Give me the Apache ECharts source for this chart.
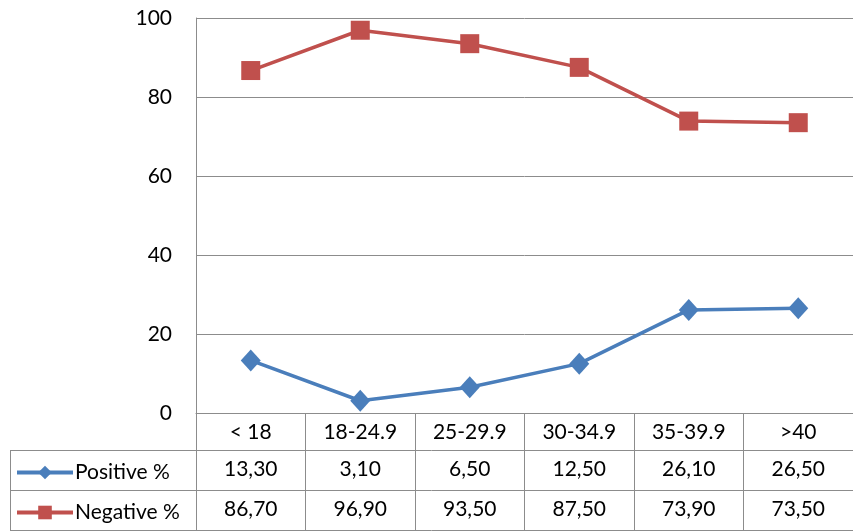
<!DOCTYPE html>
<html>
<head>
<meta charset="UTF-8">
<title></title>
<script src="https://cdn.jsdelivr.net/npm/echarts@6/dist/echarts.min.js"></script>
<style>
  html, body { margin: 0; padding: 0; background: #fff; }
  #main { width: 853px; height: 531px; }
</style>
</head>
<body>
<div id="main"></div>
<script type="text/javascript">
var categories = ['< 18', '18-24.9', '25-29.9', '30-34.9', '35-39.9', '>40'];
var positive = [13.3, 3.1, 6.5, 12.5, 26.1, 26.5];
var negative = [86.7, 96.9, 93.5, 87.5, 73.9, 73.5];
var yTicks = [0, 20, 40, 60, 80, 100];

var FONT = 'Lato';
var GRAY = '#8c8c8c';
var TEXT = '#000';

// Excel style: comma as decimal separator
function fmt(v) {
  return v.toFixed(2).replace('.', ',');
}

var myChart = echarts.init(document.getElementById('main'));

function tableAxis(offset, values) {
  return {
    type: 'category',
    data: categories,
    position: 'bottom',
    offset: offset,
    axisLine: { show: false },
    axisTick: { show: false },
    axisLabel: {
      interval: 0,
      margin: 9,
      color: TEXT,
      fontFamily: FONT,
      fontSize: 21,
      formatter: function (val, idx) { return fmt(values[idx]); }
    }
  };
}

// one legend per table row
function rowLegend(name, top) {
  return {
    left: 10,
    top: top,
    itemWidth: 56,
    itemHeight: 17,
    itemGap: 0,
    lineStyle: { width: 4 },
    textStyle: { color: TEXT, fontFamily: FONT, fontSize: 21, padding: [0, 0, 0, -3] },
    data: [name]
  };
}

var option = {
  animation: false,
  color: ['#4a7ebb', '#c0504d'],
  grid: { left: 196, right: 0, top: 18, bottom: 118 },
  legend: [
    rowLegend('Positive %', 457),
    rowLegend('Negative %', 497)
  ],
  xAxis: [
    {
      type: 'category',
      data: categories,
      boundaryGap: true,
      axisLine: { show: true, lineStyle: { color: GRAY, width: 1 } },
      axisTick: { show: true, inside: false, length: 118, lineStyle: { color: GRAY, width: 1 } },
      axisLabel: { interval: 0, margin: 9, color: TEXT, fontFamily: FONT, fontSize: 21 },
      splitLine: { show: false }
    },
    tableAxis(37, positive),
    tableAxis(77, negative)
  ],
  yAxis: {
    type: 'value',
    min: yTicks[0],
    max: yTicks[yTicks.length - 1],
    interval: 20,
    axisLine: { show: true, lineStyle: { color: GRAY } },
    axisTick: { show: false },
    axisLabel: { margin: 24, color: TEXT, fontFamily: FONT, fontSize: 21 },
    splitLine: { lineStyle: { color: GRAY, width: 1 } }
  },
  graphic: [
    // row borders of the data table
    { type: 'line', shape: { x1: 10, y1: 450.5, x2: 853, y2: 450.5 }, style: { stroke: GRAY, lineWidth: 1 } },
    { type: 'line', shape: { x1: 10, y1: 490.5, x2: 853, y2: 490.5 }, style: { stroke: GRAY, lineWidth: 1 } },
    { type: 'line', shape: { x1: 10, y1: 530.5, x2: 853, y2: 530.5 }, style: { stroke: GRAY, lineWidth: 1 } },
    { type: 'line', shape: { x1: 10.5, y1: 450, x2: 10.5, y2: 531 }, style: { stroke: GRAY, lineWidth: 1 } }
  ],
  series: [
    {
      name: 'Positive %',
      type: 'line',
      data: positive,
      symbol: 'diamond',
      symbolSize: [20, 22],
      lineStyle: { width: 3.5 },
      itemStyle: { color: '#4a7ebb' }
    },
    {
      name: 'Negative %',
      type: 'line',
      data: negative,
      symbol: 'rect',
      symbolSize: 19,
      lineStyle: { width: 3.5 },
      itemStyle: { color: '#c0504d' }
    }
  ]
};
myChart.setOption(option);
</script>
</body>
</html>
